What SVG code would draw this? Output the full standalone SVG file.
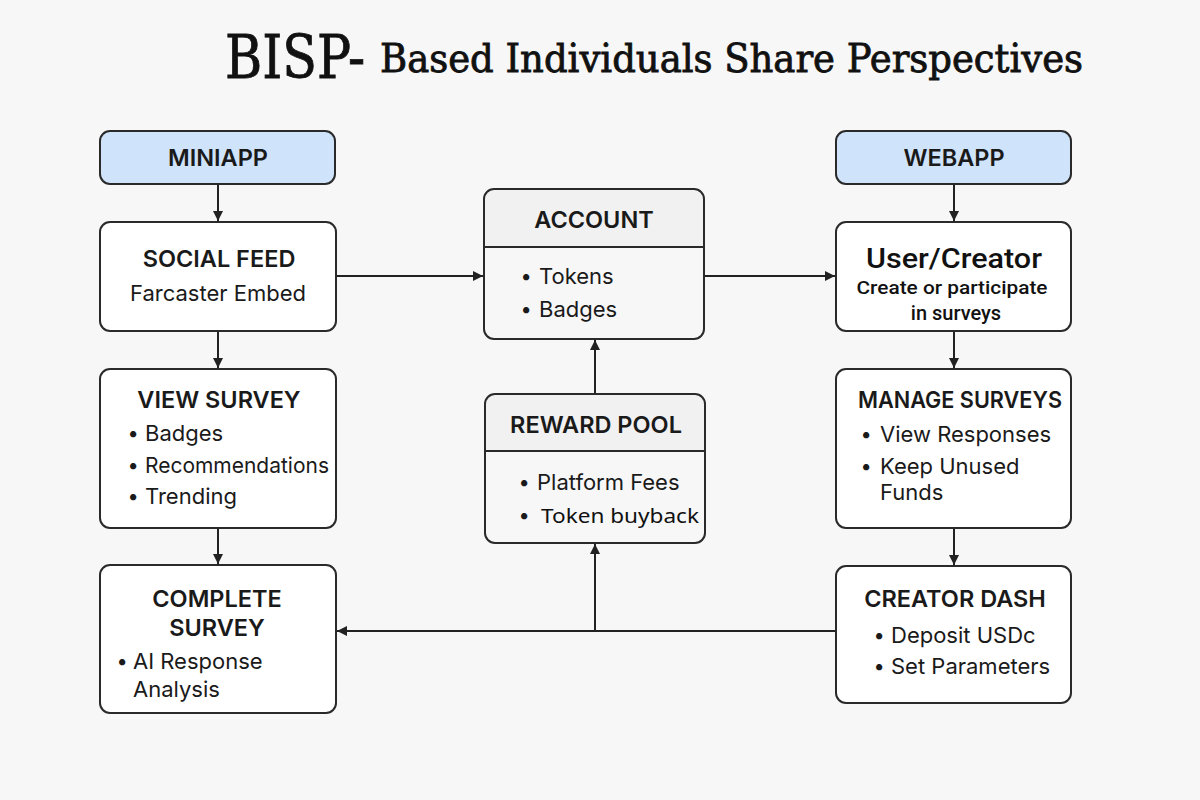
<svg xmlns="http://www.w3.org/2000/svg" width="1200" height="800" viewBox="0 0 1200 800">
<defs>
<marker id="ah" viewBox="0 0 10 10" refX="10" refY="5" markerWidth="10" markerHeight="10" markerUnits="userSpaceOnUse" orient="auto">
<path d="M0,0 L10,5 L0,10 z" fill="#222"/>
</marker>
<style>
.box{fill:#ffffff;stroke:#2a2a2a;stroke-width:2}
.blue{fill:#cfe3fa;stroke:#2a2a2a;stroke-width:2}
.hdr{fill:#f1f1f1}
.div{stroke:#2a2a2a;stroke-width:2}
.h{font-family:Inter,"Noto Sans",sans-serif;font-weight:600;font-size:23.5px;fill:#1a1a1a;text-anchor:middle}
.t{font-family:Inter,"Noto Sans",sans-serif;font-size:22px;fill:#1a1a1a}
.b{font-family:Inter,"Noto Sans",sans-serif;font-size:20px;fill:#1a1a1a;text-anchor:middle}
.tc{font-family:Inter,"Noto Sans",sans-serif;font-size:22px;fill:#1a1a1a;text-anchor:middle}
.ln{stroke:#222;stroke-width:2;fill:none}
.ti{font-family:"DejaVu Serif","Liberation Serif",serif;font-stretch:condensed;fill:#111;stroke:#111;stroke-width:0.8}
</style>
</defs>
<rect width="1200" height="800" fill="#f7f7f7"/>
<g id="title">
<text class="ti" x="225" y="78" font-size="60" textLength="140" lengthAdjust="spacingAndGlyphs">BISP-</text>
<text class="ti" x="380" y="72" font-size="40" textLength="703" lengthAdjust="spacingAndGlyphs">Based Individuals Share Perspectives</text>
</g>
<g id="connectors">
<line class="ln" x1="218" y1="184" x2="218" y2="221" marker-end="url(#ah)"/>
<line class="ln" x1="218" y1="331" x2="218" y2="368" marker-end="url(#ah)"/>
<line class="ln" x1="218" y1="528" x2="218" y2="564" marker-end="url(#ah)"/>
<line class="ln" x1="336" y1="276" x2="483" y2="276" marker-end="url(#ah)"/>
<line class="ln" x1="704" y1="276" x2="835" y2="276" marker-end="url(#ah)"/>
<line class="ln" x1="954" y1="184" x2="954" y2="221" marker-end="url(#ah)"/>
<line class="ln" x1="954" y1="331" x2="954" y2="368" marker-end="url(#ah)"/>
<line class="ln" x1="954" y1="528" x2="954" y2="565" marker-end="url(#ah)"/>
<line class="ln" x1="595" y1="394" x2="595" y2="340" marker-end="url(#ah)"/>
<line class="ln" x1="836" y1="631" x2="337" y2="631" marker-end="url(#ah)"/>
<line class="ln" x1="595" y1="631" x2="595" y2="544" marker-end="url(#ah)"/>
</g>
<g id="miniapp">
<rect class="blue" x="100" y="131" width="235" height="53" rx="10"/>
<text class="h" x="218" y="166">MINIAPP</text>
</g>
<g id="social-feed">
<rect class="box" x="100" y="222" width="236" height="109" rx="10"/>
<text class="h" x="219" y="267">SOCIAL FEED</text>
<text class="tc" x="218" y="301">Farcaster Embed</text>
</g>
<g id="view-survey">
<rect class="box" x="100" y="369" width="236" height="159" rx="10"/>
<text class="h" x="219" y="408">VIEW SURVEY</text>
<text class="b" x="133" y="440">•</text><text class="t" x="145" y="441">Badges</text>
<text class="b" x="133" y="472">•</text><text class="t" x="145" y="473" textLength="184" lengthAdjust="spacingAndGlyphs">Recommendations</text>
<text class="b" x="133" y="503">•</text><text class="t" x="145" y="504">Trending</text>
</g>
<g id="complete-survey">
<rect class="box" x="100" y="565" width="236" height="148" rx="10"/>
<text class="h" x="217" y="607">COMPLETE</text>
<text class="h" x="217" y="636">SURVEY</text>
<text class="b" x="122" y="668">•</text><text class="t" x="133" y="669">AI Response</text>
<text class="t" x="133" y="697">Analysis</text>
</g>
<g id="account">
<path class="hdr" d="M494,190 H694 A9,9 0 0 1 703,199 V247 H485 V199 A9,9 0 0 1 494,190 z"/>
<rect class="box" x="484" y="189" width="220" height="150" rx="10" style="fill:none"/>
<line class="div" x1="484" y1="247" x2="704" y2="247"/>
<text class="h" x="594" y="228">ACCOUNT</text>
<text class="b" x="526" y="283">•</text><text class="t" x="539" y="284">Tokens</text>
<text class="b" x="526" y="316">•</text><text class="t" x="539" y="317">Badges</text>
</g>
<g id="reward-pool">
<path class="hdr" d="M495,395 H695 A9,9 0 0 1 704,404 V451 H486 V404 A9,9 0 0 1 495,395 z"/>
<rect class="box" x="485" y="394" width="220" height="149" rx="10" style="fill:none"/>
<line class="div" x1="485" y1="451" x2="705" y2="451"/>
<text class="h" x="596" y="433">REWARD POOL</text>
<text class="b" x="524" y="489">•</text><text class="t" x="537" y="490">Platform Fees</text>
<text class="b" x="524" y="522">•</text><text x="541" y="523" font-family="'Noto Sans',sans-serif" font-size="20" fill="#111" textLength="158" lengthAdjust="spacingAndGlyphs">Token buyback</text>
</g>
<g id="webapp">
<rect class="blue" x="836" y="131" width="235" height="53" rx="10"/>
<text class="h" x="954" y="166">WEBAPP</text>
</g>
<g id="user-creator">
<rect class="box" x="836" y="222" width="235" height="109" rx="10"/>
<text x="954" y="268" font-family="Roboto,sans-serif" font-size="27" font-weight="500" fill="#111" text-anchor="middle" textLength="176" lengthAdjust="spacingAndGlyphs">User/Creator</text>
<text x="952" y="294" font-family="Roboto,sans-serif" font-size="19" font-weight="500" fill="#111" text-anchor="middle" textLength="191" lengthAdjust="spacingAndGlyphs">Create or participate</text>
<text x="956" y="320" font-family="Roboto,sans-serif" font-size="20" font-weight="500" fill="#111" text-anchor="middle">in surveys</text>
</g>
<g id="manage-surveys">
<rect class="box" x="836" y="369" width="235" height="159" rx="10"/>
<text class="h" x="960" y="408" textLength="204" lengthAdjust="spacingAndGlyphs">MANAGE SURVEYS</text>
<text class="b" x="866" y="441">•</text><text class="t" x="880" y="442">View Responses</text>
<text class="b" x="866" y="473">•</text><text class="t" x="880" y="474">Keep Unused</text>
<text class="t" x="880" y="500">Funds</text>
</g>
<g id="creator-dash">
<rect class="box" x="836" y="566" width="235" height="137" rx="10"/>
<text class="h" x="955" y="607">CREATOR DASH</text>
<text class="b" x="879" y="642">•</text><text class="t" x="891" y="643">Deposit USDc</text>
<text class="b" x="879" y="673">•</text><text class="t" x="891" y="674">Set Parameters</text>
</g>
</svg>
